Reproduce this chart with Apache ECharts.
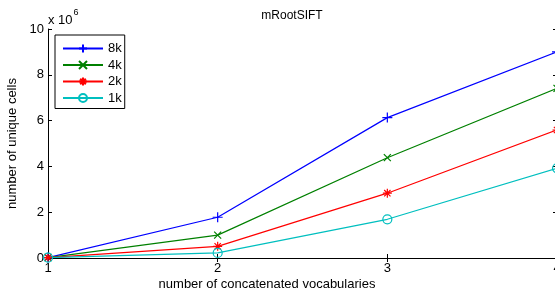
<!DOCTYPE html>
<html><head><meta charset="utf-8">
<script src="https://cdn.jsdelivr.net/npm/echarts@6/dist/echarts.min.js"></script>
<style>html,body{margin:0;padding:0;background:#fff}#c{width:555px;height:295px}</style>
</head><body><div id="c"></div>
<script>
const categories = [1, 2, 3, 4];
const yTicks = [0, 2, 4, 6, 8, 10];
const s8k = [0.02, 1.78, 6.13, 9.0];
const s4k = [0.02, 1.0, 4.38, 7.41];
const s2k = [0.02, 0.51, 2.83, 5.59];
const s1k = [0.02, 0.22, 1.69, 3.92];
const names = ['8k', '4k', '2k', '1k'];

const font = 'Liberation Sans, Arial, sans-serif';
const chart = echarts.init(document.getElementById('c'));
const plusP = 'path://M0,-10 L0,10 M-10,0 L10,0';
const crossP = 'path://M-10,-10 L10,10 M-10,10 L10,-10';
const starP = 'path://M0,-10 L0,10 M-10,0 L10,0 M-7,-7 L7,7 M-7,7 L7,-7';
function ser(name, data, color, sym, size) {
  return {
    name, type: 'line', data: data.map((v, i) => [categories[i], v]),
    symbol: sym, symbolSize: size, showSymbol: true,
    lineStyle: { color, width: 1.2 },
    itemStyle: { color: sym === 'circle' ? 'rgba(0,0,0,0)' : color, borderColor: color, borderWidth: 1.2 },
    emphasis: { disabled: true }, animation: false, z: 3
  };
}
chart.setOption({
  animation: false,
  title: { text: 'mRootSIFT', left: 287, top: 5, textAlign: 'center',
    textStyle: { fontFamily: font, fontSize: 12, fontWeight: 'normal', color: '#000' } },
  grid: { left: 48, top: 29, width: 509, height: 229, containLabel: false, outerBoundsMode: 'none' },
  legend: {
    left: 55, top: 35, orient: 'vertical', itemWidth: 40, itemHeight: 10, itemGap: 3.5,
    padding: [7, 3, 4, 7], borderColor: '#000', borderWidth: 1, backgroundColor: '#fff',
    textStyle: { fontFamily: font, fontSize: 13, color: '#000' },
    data: names, selectedMode: false
  },
  xAxis: [
    { type: 'value', min: 1, max: 4, interval: 1, position: 'bottom',
      axisLine: { lineStyle: { color: '#000', width: 1 } },
      axisTick: { inside: true, length: 4, lineStyle: { color: '#000' } },
      axisLabel: { fontFamily: font, fontSize: 13, color: '#000', margin: 4,
        formatter: v => categories.includes(v) ? String(v) : '' },
      splitLine: { show: false } },
    { type: 'value', min: 1, max: 4, interval: 1, position: 'top',
      axisLine: { lineStyle: { color: '#000', width: 1 } },
      axisTick: { inside: true, length: 4, lineStyle: { color: '#000' } },
      axisLabel: { show: false }, splitLine: { show: false } }
  ],
  yAxis: [
    { type: 'value', min: 0, max: 10, interval: 2, position: 'left',
      name: 'number of unique cells', nameLocation: 'middle', nameGap: 28,
      nameTextStyle: { fontFamily: font, fontSize: 13, color: '#000' },
      axisLine: { show: true, lineStyle: { color: '#000', width: 1 } },
      axisTick: { show: true, inside: true, length: 4, lineStyle: { color: '#000' } },
      axisLabel: { fontFamily: font, fontSize: 13, color: '#000', margin: 4,
        formatter: v => yTicks.includes(v) ? String(v) : '' },
      splitLine: { show: false } },
    { type: 'value', min: 0, max: 10, interval: 2, position: 'right',
      axisLine: { show: true, lineStyle: { color: '#000', width: 1 } },
      axisTick: { show: true, inside: true, length: 4, lineStyle: { color: '#000' } },
      axisLabel: { show: false }, splitLine: { show: false } }
  ],
  graphic: [
    { type: 'text', left: 48, top: 8, style: {
      text: '{a|x 10}{b|6}', fontFamily: font,
      rich: { a: { fontSize: 13, fontFamily: font, fill: '#000', padding: [6, 0, 0, 0] },
              b: { fontSize: 9, fontFamily: font, fill: '#000', verticalAlign: 'top', padding: [0, 0, 8, 1] } } } },
    { type: 'text', x: 267, y: 278, style: { text: 'number of concatenated vocabularies',
      fontFamily: font, fontSize: 13, fill: '#000', align: 'center' } }
  ],
  series: [
    ser('8k', s8k, '#0000ff', plusP, 10),
    ser('4k', s4k, '#008000', crossP, 7),
    ser('2k', s2k, '#ff0000', starP, 9),
    ser('1k', s1k, '#00bfbf', 'circle', 9)
  ]
});
</script></body></html>
